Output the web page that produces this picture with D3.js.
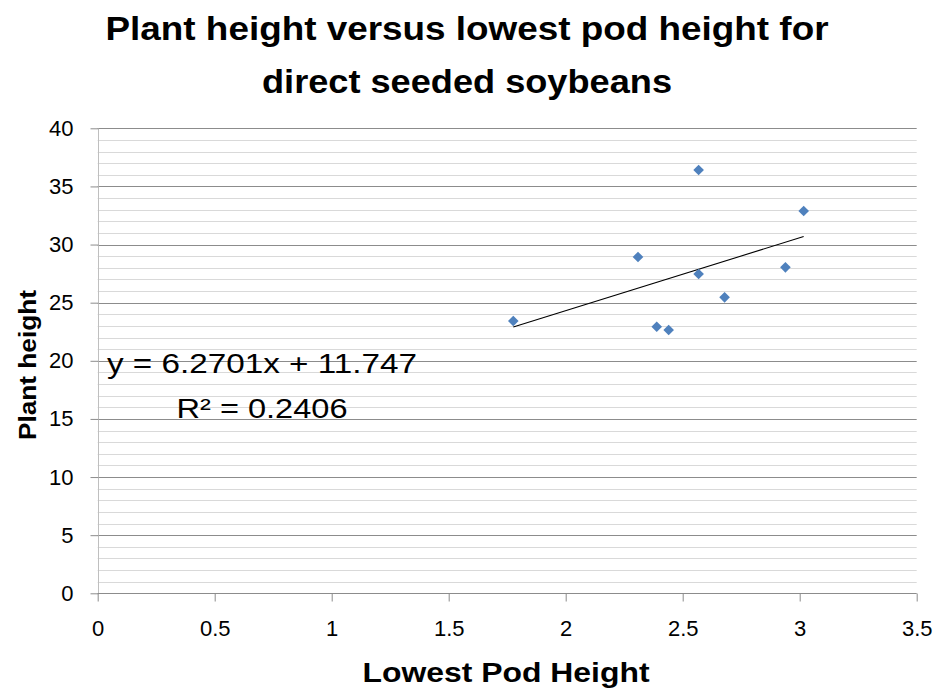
<!DOCTYPE html>
<html><head><meta charset="utf-8">
<script src="https://cdn.jsdelivr.net/npm/d3@7"></script>
<style>body{margin:0;background:#fff}svg{display:block}</style>
</head><body>
<script>
const lowestPodHeight = [1.776, 2.309, 2.389, 2.440, 2.568, 2.568, 2.679, 2.939, 3.017];
const plantHeight     = [23.42, 28.93, 22.93, 22.65, 36.41, 27.47, 25.46, 28.04, 32.89];
const xTicks = [0, 0.5, 1, 1.5, 2, 2.5, 3, 3.5];
const yTicks = [0, 5, 10, 15, 20, 25, 30, 35, 40];
const yMinor = d3.range(0, 41, 1);
const titleLines = ["Plant height versus lowest pod height for", "direct seeded soybeans"];
const xTitle = "Lowest Pod Height";
const yTitle = "Plant height";
const eqText = "y = 6.2701x + 11.747";
const r2Text = "R² = 0.2406";

const W = 935, H = 690;
const svg = d3.select("body").append("svg").attr("width", W).attr("height", H);
const font = "'Liberation Sans', Arial, sans-serif";

const x = d3.scaleLinear().domain([0, 3.5]).range([97.7, 916.7]);
const y = d3.scaleLinear().domain([0, 40]).range([593.3, 128.3]);

// minor gridlines
svg.append("g").selectAll("line").data(yMinor.filter(v => v % 5 !== 0)).join("line")
  .attr("x1", x(0)).attr("x2", x(3.5))
  .attr("y1", d => Math.round(y(d)) + 0.5).attr("y2", d => Math.round(y(d)) + 0.5)
  .attr("stroke", "#d9d9d9").attr("stroke-width", 1);
// major gridlines
svg.append("g").selectAll("line").data(yTicks.filter(v => v !== 0)).join("line")
  .attr("x1", x(0)).attr("x2", x(3.5))
  .attr("y1", d => Math.round(y(d)) + 0.5).attr("y2", d => Math.round(y(d)) + 0.5)
  .attr("stroke", "#8c8c8c").attr("stroke-width", 1);

// Y axis
const yAxis = d3.axisLeft(y).tickValues(yTicks).tickSize(8).tickPadding(17).tickFormat(d3.format("d"));
const gy = svg.append("g").attr("transform", `translate(${Math.round(x(0)) + 0.5},0)`).call(yAxis);
gy.select(".domain").attr("stroke", "#bfbfbf").attr("d", `M0,${y(40)}V${y(0)}`);
gy.selectAll(".tick line").attr("stroke", "#8c8c8c");
gy.selectAll(".tick text").attr("font-family", font).attr("font-size", 22).attr("fill", "#000");

// X axis
const xAxis = d3.axisBottom(x).tickValues(xTicks).tickSize(8).tickPadding(18.5).tickFormat(d => String(d));
const gx = svg.append("g").attr("transform", `translate(0,${Math.round(y(0)) + 0.5})`).call(xAxis);
gx.select(".domain").attr("stroke", "#8c8c8c").attr("d", `M${x(0)},0H${x(3.5)}`);
gx.selectAll(".tick line").attr("stroke", "#8c8c8c");
gx.selectAll(".tick text").attr("font-family", font).attr("font-size", 22).attr("fill", "#000");

// Trendline (least squares from data)
const n = lowestPodHeight.length;
const mx = d3.mean(lowestPodHeight), my = d3.mean(plantHeight);
let sxy = 0, sxx = 0;
for (let i = 0; i < n; i++) { sxy += (lowestPodHeight[i]-mx)*(plantHeight[i]-my); sxx += (lowestPodHeight[i]-mx)**2; }
const slope = sxy / sxx, intercept = my - slope * mx;
const [xmin, xmax] = d3.extent(lowestPodHeight);
svg.append("line")
  .attr("x1", x(xmin)).attr("y1", y(intercept + slope * xmin))
  .attr("x2", x(xmax)).attr("y2", y(intercept + slope * xmax))
  .attr("stroke", "#000").attr("stroke-width", 1.1);

// Points
const sym = d3.symbol().type(d3.symbolDiamond2).size(72);
svg.append("g").selectAll("path").data(lowestPodHeight.map((v, i) => [v, plantHeight[i]])).join("path")
  .attr("d", sym)
  .attr("transform", d => `translate(${x(d[0])},${y(d[1])})`)
  .attr("fill", "#4f81bd");

// Title
svg.append("text").attr("x", 467).attr("y", 40).attr("text-anchor", "middle")
  .attr("font-family", font).attr("font-weight", "bold").attr("font-size", 34)
  .attr("textLength", 723).attr("lengthAdjust", "spacingAndGlyphs").text(titleLines[0]);
svg.append("text").attr("x", 467).attr("y", 93).attr("text-anchor", "middle")
  .attr("font-family", font).attr("font-weight", "bold").attr("font-size", 34)
  .attr("textLength", 410).attr("lengthAdjust", "spacingAndGlyphs").text(titleLines[1]);

// Axis titles
svg.append("text").attr("x", 506).attr("y", 682).attr("text-anchor", "middle")
  .attr("font-family", font).attr("font-weight", "bold").attr("font-size", 27)
  .attr("textLength", 287).attr("lengthAdjust", "spacingAndGlyphs").text(xTitle);
svg.append("text").attr("transform", "translate(36,365) rotate(-90)").attr("text-anchor", "middle")
  .attr("font-family", font).attr("font-weight", "bold").attr("font-size", 23)
  .attr("textLength", 150).attr("lengthAdjust", "spacingAndGlyphs").text(yTitle);

// Equation
svg.append("text").attr("x", 262).attr("y", 373).attr("text-anchor", "middle")
  .attr("font-family", font).attr("font-size", 28)
  .attr("textLength", 310).attr("lengthAdjust", "spacingAndGlyphs").text(eqText);
svg.append("text").attr("x", 262).attr("y", 418).attr("text-anchor", "middle")
  .attr("font-family", font).attr("font-size", 28)
  .attr("textLength", 171).attr("lengthAdjust", "spacingAndGlyphs").text(r2Text);
</script>
</body></html>
